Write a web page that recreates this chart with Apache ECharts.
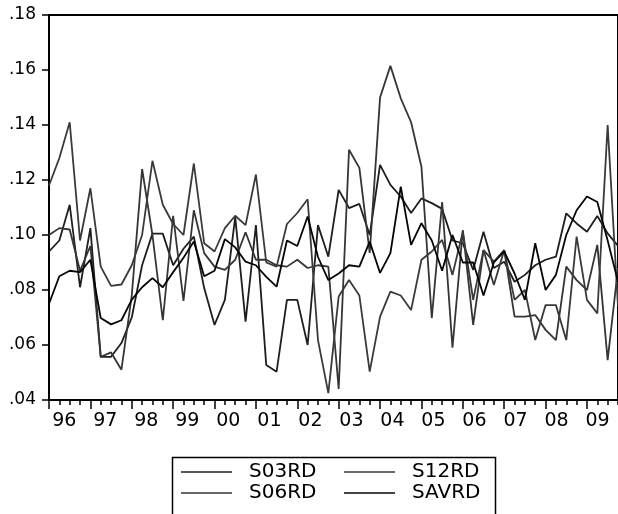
<!DOCTYPE html>
<html>
<head>
<meta charset="utf-8">
<script src="https://cdn.jsdelivr.net/npm/echarts@6/dist/echarts.min.js"></script>
<style>
  html, body { margin: 0; padding: 0; background: #fff; }
  #chart { width: 618px; height: 514px; }
</style>
</head>
<body>
<div id="chart"></div>
<script>
// quarterly observations 1996Q1 .. 2009Q4
var quarters = [];
for (var y = 1996; y <= 2009; y++) {
    for (var q = 1; q <= 4; q++) quarters.push(y + 'Q' + q);
}
var years = ['96','97','98','99','00','01','02','03','04','05','06','07','08','09'];

var s03rd = [.094,.098,.111,.081,.1025,.0557,.0557,.0607,.070,.089,.1005,.1005,.089,.095,.0994,.0807,
             .0673,.0764,.1065,.0685,.1036,.0527,.0503,.0764,.0764,.060,.1036,.0921,.1164,.1098,.1113,.100,
             .1255,.1182,.114,.108,.1133,.1116,.1095,.098,.097,.0873,.1012,.088,.0903,.083,.0855,.089,
             .091,.0921,.1079,.1042,.1012,.1069,.1006,.096];
var s06rd = [.100,.1025,.102,.087,.096,.0557,.0573,.051,.078,.124,.100,.069,.107,.076,.109,.0934,
             .0885,.0873,.091,.101,.091,.091,.089,.0885,.091,.088,.089,.0885,.044,.131,.1244,.0935,
             .150,.1615,.1497,.141,.1248,.0698,.112,.059,.1018,.0673,.0945,.0903,.0945,.0703,.0703,.0709,
             .0655,.0618,.0885,.0836,.080,.0964,.0545,.088];
var s12rd = [.118,.128,.141,.098,.117,.0885,.0815,.082,.089,.100,.127,.111,.104,.100,.126,.097,
             .094,.1025,.107,.1036,.122,.090,.0885,.104,.108,.113,.0618,.0425,.0776,.0836,.078,.0503,
             .0703,.0794,.078,.0727,.091,.094,.0982,.0855,.1012,.0764,.0945,.0818,.0945,.0764,.080,.0618,
             .0745,.0745,.0618,.0994,.0764,.0715,.140,.074];
var savrd = [.075,.085,.087,.0865,.091,.0698,.0675,.069,.0765,.081,.0843,.081,.0865,.0917,.0976,.085,
             .087,.0985,.0955,.0903,.089,.0848,.0812,.098,.096,.1067,.092,.0836,.086,.089,.0885,.0976,
             .0862,.0934,.1176,.0964,.1043,.098,.087,.100,.090,.090,.078,.090,.094,.086,.0764,.097,
             .080,.0855,.100,.109,.114,.112,.098,.083];

var font = 'DejaVu Sans';
var chart = echarts.init(document.getElementById('chart'));

function line(name, data, color) {
    return {
        name: name, type: 'line', data: data,
        showSymbol: false, symbol: 'none',
        lineStyle: { color: color, width: 1.8 },
        itemStyle: { color: color },
        animation: false
    };
}

function legendItem(name, left, top) {
    return {
        data: [name], left: left, top: top, padding: 0,
        icon: 'rect', itemWidth: 51, itemHeight: 1.6,
        textStyle: { fontFamily: font, fontSize: 20, color: '#000', padding: [0, 0, 0, 12] },
        selectedMode: false
    };
}

var option = {
    backgroundColor: '#fff',
    animation: false,
    grid: [
        { left: 49, right: -4, top: 15, bottom: 114, show: true, borderColor: '#000', borderWidth: 2 },
        { left: 43.8, right: -9.2, top: 15, bottom: 114 }
    ],
    xAxis: [
        {
            type: 'category', data: quarters, boundaryGap: false, gridIndex: 0,
            axisLine: { lineStyle: { color: '#000', width: 2 } },
            axisTick: { interval: 0, length: 5, lineStyle: { color: '#000', width: 1.5 } },
            axisLabel: { show: false }
        },
        {
            type: 'category', data: quarters, boundaryGap: false, gridIndex: 0, position: 'bottom',
            axisLine: { show: false },
            axisTick: { interval: function (i) { return i % 4 === 0; }, length: 9, lineStyle: { color: '#000', width: 1.5 } },
            axisLabel: { show: false }
        },
        {
            type: 'category', data: years, boundaryGap: true, gridIndex: 1,
            axisLine: { show: false }, axisTick: { show: false },
            axisLabel: { interval: 0, margin: 12, fontFamily: font, fontSize: 19, color: '#000' }
        }
    ],
    yAxis: [
        {
            type: 'value', min: 0.04, max: 0.18, interval: 0.02, gridIndex: 0,
            axisLine: { show: true, lineStyle: { color: '#000', width: 2 } },
            axisTick: { show: true, length: 7, lineStyle: { color: '#000', width: 1.5 } },
            splitLine: { show: false },
            axisLabel: {
                margin: 13, fontFamily: font, fontSize: 17, color: '#000',
                formatter: function (v) { return v.toFixed(2).replace(/^0/, ''); }
            }
        },
        { type: 'value', gridIndex: 1, show: false }
    ],
    legend: [
        legendItem('S03RD', 181, 462),
        legendItem('S12RD', 344, 462),
        legendItem('S06RD', 181, 483),
        legendItem('SAVRD', 344, 483)
    ],
    graphic: [{
        type: 'rect', left: 170, top: 455,
        shape: { width: 323, height: 80 },
        style: { fill: 'none', stroke: '#000', lineWidth: 1.5 }
    }],
    series: [
        line('S03RD', s03rd, '#1e1e1e'),
        line('S06RD', s06rd, '#353535'),
        line('S12RD', s12rd, '#3a3a3a'),
        line('SAVRD', savrd, '#050505')
    ]
};
chart.setOption(option);

window.onresize = chart.resize;
</script>
</body>
</html>
